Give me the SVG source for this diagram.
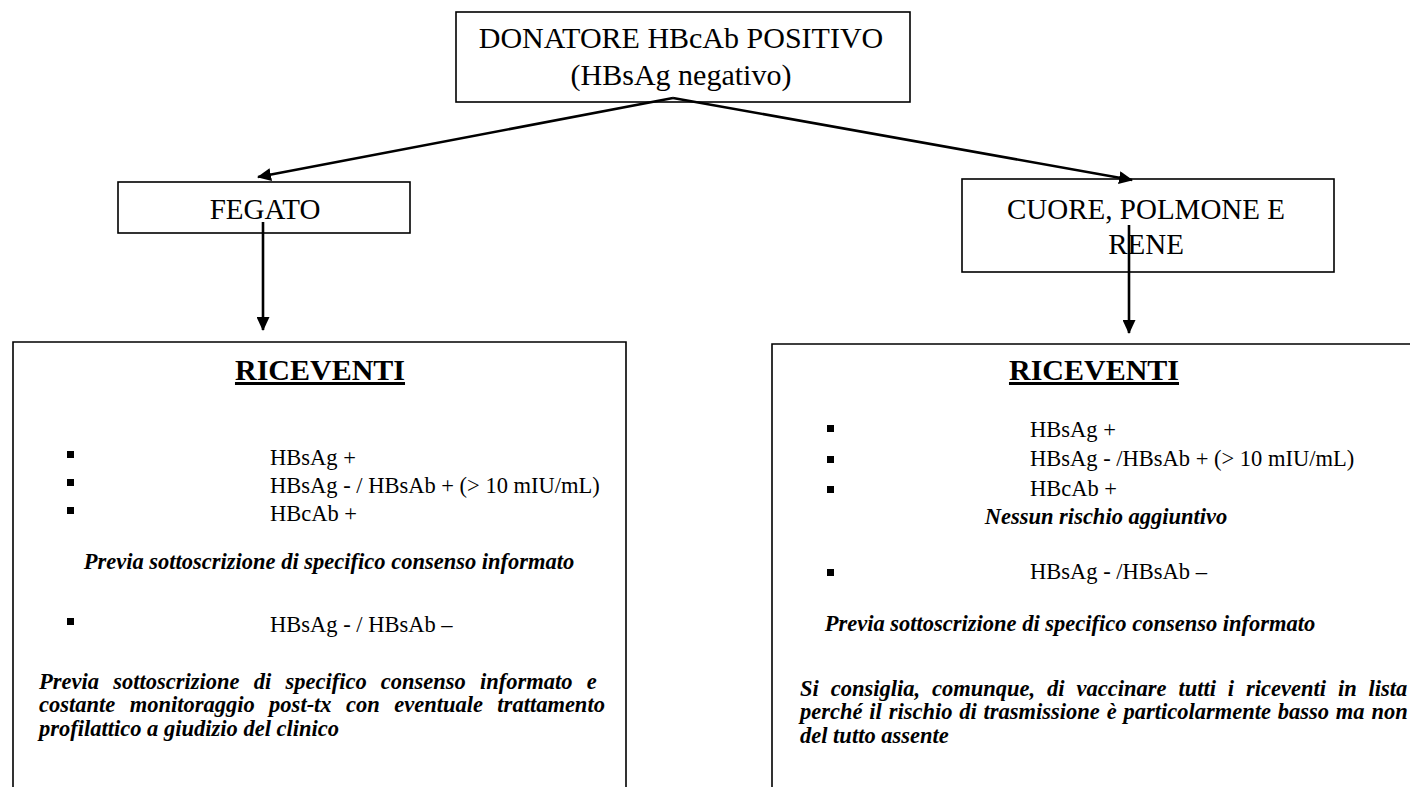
<svg xmlns="http://www.w3.org/2000/svg" width="1410" height="787" viewBox="0 0 1410 787">
<defs>
<style>
.box{fill:#fff;stroke:#000;stroke-width:1.6}
.open{fill:none;stroke:#000;stroke-width:1.6}
.t{font-family:"Liberation Serif","Times New Roman",serif;fill:#000}
.big{font-size:29px}
.top{font-size:30px}
.h{font-size:30px;font-weight:bold;text-decoration:underline}
.it{font-size:22.5px}
.bi{font-size:22.5px;font-weight:bold;font-style:italic}
.conn{stroke:#000;stroke-width:2.6;fill:none}
.bul{fill:#000}
</style>
<marker id="ah" viewBox="0 0 14 13" refX="13" refY="6.5" markerWidth="14" markerHeight="13" markerUnits="userSpaceOnUse" orient="auto">
<path d="M0,0 L14,6.5 L0,13 z" fill="#000"/>
</marker>
</defs>
<rect width="1410" height="787" fill="#fff"/>

<g id="donatore">
<rect class="box" x="456" y="12" width="454" height="90"/>
<text class="t top" x="681" y="48" text-anchor="middle">DONATORE HBcAb POSITIVO</text>
<text class="t top" x="681" y="85" text-anchor="middle">(HBsAg negativo)</text>
</g>

<g id="fegato">
<rect class="box" x="118" y="182" width="292" height="51"/>
<text class="t big" x="265" y="219" text-anchor="middle">FEGATO</text>
</g>

<g id="cuore">
<rect class="box" x="962" y="179" width="372" height="93"/>
<text class="t big" x="1146" y="219" text-anchor="middle">CUORE, POLMONE E</text>
<text class="t big" x="1146" y="254" text-anchor="middle">RENE</text>
</g>

<g id="riceventi-fegato">
<path class="open" d="M13,787 V342 H626 V787"/>
<text class="t h" x="320" y="380" text-anchor="middle">RICEVENTI</text>
<rect class="bul" x="67" y="451" width="7" height="7"/>
<rect class="bul" x="67" y="479" width="7" height="7"/>
<rect class="bul" x="67" y="507" width="7" height="7"/>
<text class="t it" x="270" y="465">HBsAg +</text>
<text class="t it" x="270" y="493">HBsAg - / HBsAb + (&gt; 10 mIU/mL)</text>
<text class="t it" x="270" y="521">HBcAb +</text>
<text class="t bi" x="329" y="569" text-anchor="middle">Previa sottoscrizione di specifico consenso informato</text>
<rect class="bul" x="67" y="618" width="7" height="7"/>
<text class="t it" x="270" y="632">HBsAg - / HBsAb –</text>
<text class="t bi" x="39" y="689" word-spacing="8.6">Previa sottoscrizione di specifico consenso informato e</text>
<text class="t bi" x="39" y="712" word-spacing="8.8">costante monitoraggio post-tx con eventuale trattamento</text>
<text class="t bi" x="39" y="736">profilattico a giudizio del clinico</text>
</g>

<g id="riceventi-cuore">
<path class="open" d="M772,787 V344 H1410"/>
<text class="t h" x="1094" y="380" text-anchor="middle">RICEVENTI</text>
<rect class="bul" x="827" y="425" width="7" height="7"/>
<rect class="bul" x="827" y="456" width="7" height="7"/>
<rect class="bul" x="827" y="486" width="7" height="7"/>
<text class="t it" x="1030" y="437">HBsAg +</text>
<text class="t it" x="1030" y="466">HBsAg - /HBsAb + (&gt; 10 mIU/mL)</text>
<text class="t it" x="1030" y="496">HBcAb +</text>
<text class="t bi" x="1106" y="524" text-anchor="middle">Nessun rischio aggiuntivo</text>
<rect class="bul" x="827" y="569" width="7" height="7"/>
<text class="t it" x="1030" y="579">HBsAg - /HBsAb –</text>
<text class="t bi" x="1070" y="631" text-anchor="middle">Previa sottoscrizione di specifico consenso informato</text>
<text class="t bi" x="800" y="696" word-spacing="6.3">Si consiglia, comunque, di vaccinare tutti i riceventi in lista</text>
<text class="t bi" x="800" y="719" word-spacing="1.2">perché il rischio di trasmissione è particolarmente basso ma non</text>
<text class="t bi" x="800" y="743">del tutto assente</text>
</g>

<g id="connectors">
<line class="conn" x1="673" y1="98" x2="258" y2="177" marker-end="url(#ah)"/>
<line class="conn" x1="673" y1="98" x2="1132" y2="180" marker-end="url(#ah)"/>
<line class="conn" x1="263" y1="222" x2="263" y2="330" marker-end="url(#ah)"/>
<line class="conn" x1="1129" y1="225" x2="1129" y2="333" marker-end="url(#ah)"/>
</g>
</svg>
